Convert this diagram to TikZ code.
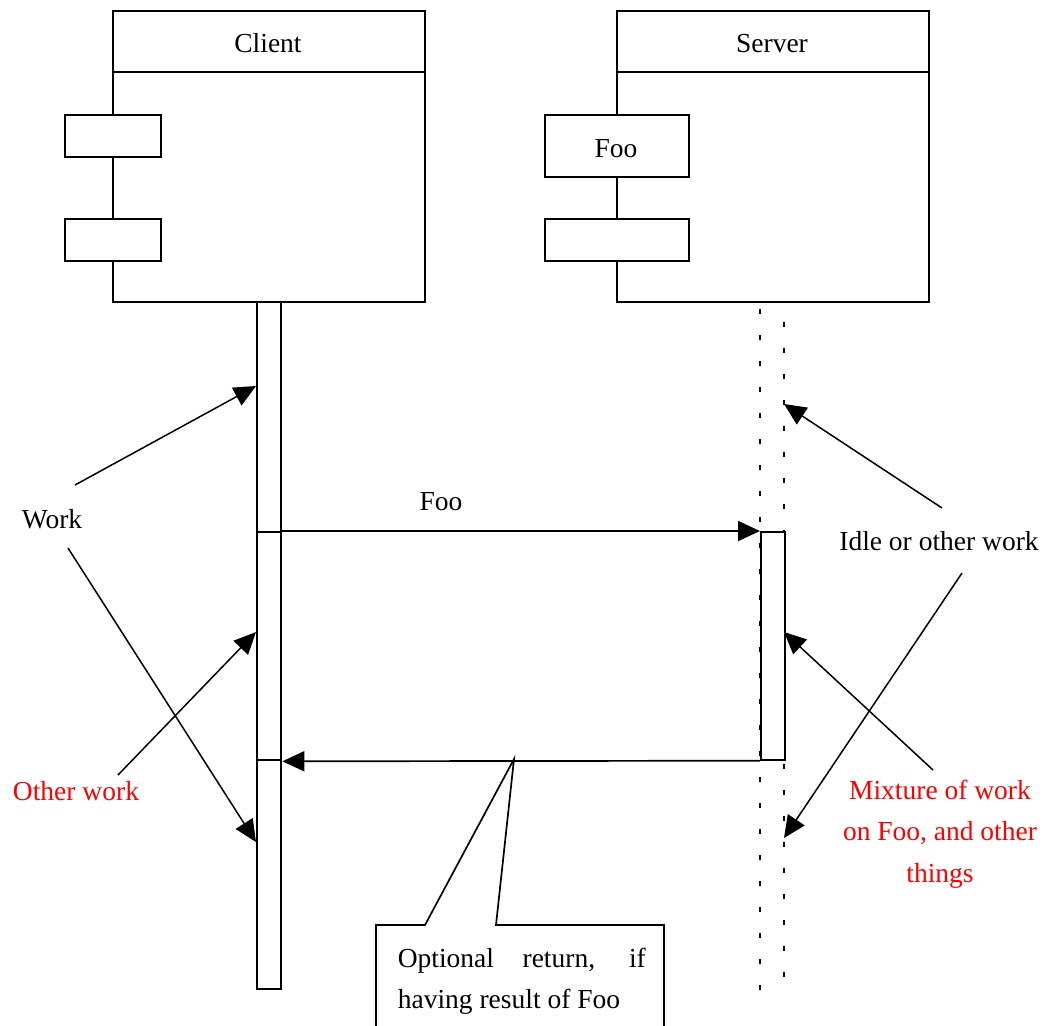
\documentclass[tikz,border=0pt]{standalone}
\usepackage{fontspec}
\setmainfont{Liberation Serif}
\usetikzlibrary{arrows.meta}
\begin{document}
\begin{tikzpicture}[x=1pt,y=-1pt,
  line width=1.7pt,
  lbl/.style={font=\fontsize{27.5}{41.5}\selectfont, inner sep=0pt},
  note/.style={lbl, text=red, align=center},
  frame/.style={draw, fill=white, inner sep=0pt, anchor=north west},
  lifebar/.style={frame, minimum width=24pt},
  activation/.style={frame, minimum width=24pt, minimum height=228pt},
  tip/.style={-{Triangle[length=22pt,width=20pt]}},
  pointer/.style={tip, line width=1.5pt},
  dots/.style={line width=2.6pt, dash pattern=on 4.5pt off 21.5pt},
]
\useasboundingbox (0,0) rectangle (1045,1026);
\clip (0,0) rectangle (1045,1026);

% ---- Client component ----
\node[frame, minimum width=312pt, minimum height=291pt] (client) at (112,10) {};
\draw (112,72) -- (424,72);
\node[lbl, anchor=base] (clientname) at (268,52) {Client};
\node[frame, minimum width=96pt, minimum height=42pt] (cport1) at (64,114) {};
\node[frame, minimum width=96pt, minimum height=42pt] (cport2) at (64,218) {};

% ---- Server component ----
\node[frame, minimum width=312pt, minimum height=291pt] (server) at (616,10) {};
\draw (616,72) -- (928,72);
\node[lbl, anchor=base] (servername) at (772,52) {Server};
\node[frame, minimum width=144pt, minimum height=62pt] (sport1) at (544,114) {};
\node[lbl, anchor=base] (sfoo) at (616,157) {Foo};
\node[frame, minimum width=144pt, minimum height=42pt] (sport2) at (544,218) {};

% ---- Lifelines ----
\node[lifebar, minimum height=687pt] (clife) at (256,301) {};
\node[activation, line width=2.3pt] (cact) at (256,531) {};

\coordinate (sl1) at (760,301);
\coordinate (sl2) at (760,990);
\coordinate (sr1) at (784,301);
\coordinate (sr2) at (784,988);
\draw[dots, dash phase=-8pt] (sl1) -- (sl2);
\draw[dots, dash phase=5pt] (sr1) -- (sr2);
\node[activation] (sact) at (760,531) {};

% ---- Messages ----
\draw[tip] (cact.north east) -- (sact.north west);
\node[lbl, anchor=base] (foomsg) at (441,510) {Foo};
\draw[tip] (sact.south west) -- (cact.south east);

% ---- Callout on the return message ----
\coordinate (rettip) at (514,759);
\draw[fill=white] (rettip) -- (425,925) -- (376,925) -- (376,1045)
  -- (664,1045) -- (664,925) -- (496,925) -- cycle;
\node[lbl, anchor=base west] (ret1) at (397,967)
  {\makebox[248pt][s]{Optional return, if}};
\node[lbl, anchor=base west] (ret2) at (397,1008) {having result of Foo};

% ---- Annotations ----
\node[lbl, anchor=base] (work) at (52,528) {Work};
\coordinate (workA) at (75,485);
\coordinate (workB) at (68,548);
\coordinate (workTipA) at (256,386);
\coordinate (workTipB) at (256,842);
\draw[pointer] (workA) -- (workTipA);
\draw[pointer] (workB) -- (workTipB);

\node[note, anchor=base] (other) at (76,800) {Other work};
\coordinate (otherA) at (118,775);
\coordinate (otherTip) at (256,632);
\draw[pointer] (otherA) -- (otherTip);

\node[lbl, anchor=base] (idle) at (939,550) {Idle or other work};
\coordinate (idleA) at (942,508);
\coordinate (idleB) at (962,573);
\coordinate (idleTipA) at (784,404);
\coordinate (idleTipB) at (784,838);
\draw[pointer] (idleA) -- (idleTipA);
\draw[pointer] (idleB) -- (idleTipB);

\node[note, anchor=base] (mix) at (940,882) {Mixture of work\\on Foo, and other\\things};
\coordinate (mixA) at (933,770);
\coordinate (mixTip) at (784,632);
\draw[pointer] (mixA) -- (mixTip);
\end{tikzpicture}
\end{document}
